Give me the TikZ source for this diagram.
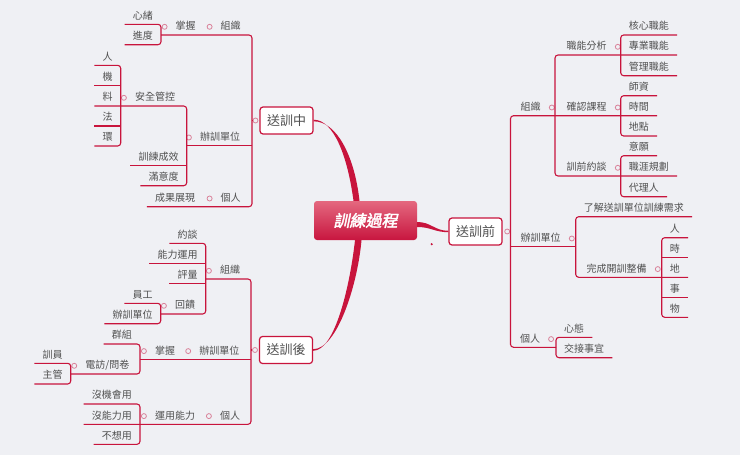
\documentclass[tikz,border=0pt]{standalone}
\usepackage{fontspec}
\setmainfont{Noto Sans CJK TC}
\newfontfamily\hubfont[FakeSlant=0.2,FakeBold=2.5]{Noto Sans CJK TC}

\definecolor{bg}{HTML}{EFF0F4}
\definecolor{linec}{HTML}{C8143C}
\definecolor{knobc}{HTML}{D9829A}
\definecolor{txt}{HTML}{505050}
\definecolor{hubtop}{HTML}{E4687F}
\definecolor{hubbot}{HTML}{C8163F}

\tikzset{
  link/.style={draw=linec, line width=1.1pt, rounded corners=3pt},
  branch/.style={fill=linec},
  leaf/.style={font=\fontsize{10}{12}\selectfont, text=txt, inner xsep=8pt,
    inner ysep=3pt, text height=8pt, text depth=2pt},
  knob/.style={circle, draw=knobc, fill=bg, line width=0.8pt, minimum size=5pt,
    inner sep=0pt, text height=0pt, text depth=0pt},
  topicL/.style={leaf, inner xsep=0pt, anchor=south,
    label={[knob, label distance=8pt]left:{}}},
  topicR/.style={leaf, inner xsep=0pt, anchor=south,
    label={[knob, label distance=8pt]right:{}}},
  mainbox/.style={draw=linec, fill=white, line width=1.2pt, rounded corners=3pt,
    minimum width=53pt, minimum height=27pt, inner sep=0pt,
    font=\fontsize{13}{15}\selectfont, text=txt},
  hub/.style={rounded corners=3pt, top color=hubtop, bottom color=hubbot,
    minimum width=103pt, minimum height=39pt, inner sep=0pt, text=white,
    font=\hubfont\fontsize{16}{18}\selectfont},
}

\begin{document}
\begin{tikzpicture}[x=1pt, y=-1pt]
\fill[bg] (0,0) rectangle (740,455);
\useasboundingbox (0,0) rectangle (740,455);

\node[hub] (guocheng) at (365.5,220.5) {訓練過程};

% 送訓中
\node[mainbox, label={[knob, name=zhong-knob, label distance=1pt]left:{}}] (zhong) at (286.5,120.5) {送訓中};
\node[leaf, anchor=south east] (xinxu) at (161,24.3) {心緒};
\node[leaf, anchor=south east] (jindu) at (161,44.7) {進度};
\node[topicL] (zhangwo) at (185.7,35) {掌握};
\node[topicL] (zuzhi) at (230.7,35) {組織};
\node[leaf, anchor=south east] (ren) at (120.7,65.3) {人};
\node[leaf, anchor=south east] (ji) at (120.7,85.7) {機};
\node[leaf, anchor=south east] (liao) at (120.7,106) {料};
\node[leaf, anchor=south east] (fa) at (120.7,126) {法};
\node[leaf, anchor=south east] (huan) at (120.7,146) {環};
\node[topicL] (anquan) at (155,106) {安全管控};
\node[leaf, anchor=south east] (chengxiao) at (186.7,165.7) {訓練成效};
\node[leaf, anchor=south east] (manyi) at (186.7,185.7) {滿意度};
\node[topicL] (banxun) at (220,145.7) {辦訓單位};
\node[leaf, anchor=south] (chengguo) at (175,206.7) {成果展現};
\node[topicL] (geren) at (230.7,206.7) {個人};
\coordinate (zhong-top) at (252,35);
\coordinate (zhong-bot) at (252,206.7);

\draw[link] (xinxu.south west) -- (xinxu.south east) -- (jindu.south east) -- (jindu.south west);
\draw[link] (jindu.south east |- zhangwo.south) -- (zhong-top) -- (zhong-bot) -- (chengguo.south west);
\draw[link] (zhong-top |- zhong.west) -- (zhong-knob.west);
\draw[link] (ren.south west) -- (ren.south east) -- (huan.south east) -- (huan.south west);
\draw[link] (ji.south west) -- (ji.south east);
\draw[link] (fa.south west) -- (fa.south east);
\draw[link] (liao.south west) -- (liao.south -| manyi.south east) -- (manyi.south east) -- (manyi.south west);
\draw[link] (chengxiao.south west) -- (chengxiao.south east);
\draw[link] (chengxiao.south east |- banxun.south) -- (zhong-top |- banxun.south);

% 送訓後
\node[mainbox, label={[knob, name=hou-knob, label distance=1pt]left:{}}] (hou) at (286,350) {送訓後};
\node[leaf, anchor=south east] (yuetan) at (205.7,243.3) {約談};
\node[leaf, anchor=south east] (nengli) at (205.7,263.3) {能力運用};
\node[leaf, anchor=south east] (pingliang) at (205.7,283.3) {評量};
\node[topicL] (huikui) at (185,314) {回饋};
\node[leaf, anchor=south east] (yuangong) at (160.7,303.3) {員工};
\node[leaf, anchor=south east] (banxunb) at (160.7,323.7) {辦訓單位};
\node[topicL] (zuzhib) at (230,279) {組織};
\node[leaf, anchor=south east] (qunzu) at (140,344) {群組};
\node[topicL] (dianfang) at (107.3,374) {電訪/問卷};
\node[leaf, anchor=south east] (xunyuan) at (70.7,363.3) {訓員};
\node[leaf, anchor=south east] (zhuguan) at (70.7,384) {主管};
\node[topicL] (zhangwob) at (165,359.3) {掌握};
\node[topicL] (banxunc) at (219.3,359.3) {辦訓單位};
\node[leaf, anchor=south east] (meijihui) at (140,404) {沒機會用};
\node[leaf, anchor=south east] (meinengli) at (140,424.3) {沒能力用};
\node[leaf, anchor=south east] (buxiang) at (140,444.3) {不想用};
\node[topicL] (yunyong) at (175,424.3) {運用能力};
\node[topicL] (gerenb) at (230,424.3) {個人};
\coordinate (hou-top) at (251,279);
\coordinate (hou-bot) at (251,424.3);

\draw[link] (yuetan.south west) -- (yuetan.south east) -- (yuetan.south east |- huikui.south) -- (yuangong.south east |- huikui.south);
\draw[link] (nengli.south west) -- (nengli.south east);
\draw[link] (pingliang.south west) -- (pingliang.south east);
\draw[link] (yuangong.south west) -- (yuangong.south east) -- (banxunb.south east) -- (banxunb.south west);
\draw[link] (yuetan.south east |- zuzhib.south) -- (hou-top) -- (hou-bot) -- (meinengli.south west);
\draw[link] (hou-top |- hou.west) -- (hou-knob.west);
\draw[link] (qunzu.south west) -- (qunzu.south east) -- (qunzu.south east |- dianfang.south) -- (xunyuan.south east |- dianfang.south);
\draw[link] (qunzu.south east |- zhangwob.south) -- (hou-top |- zhangwob.south);
\draw[link] (xunyuan.south west) -- (xunyuan.south east) -- (zhuguan.south east) -- (zhuguan.south west);
\draw[link] (meijihui.south west) -- (meijihui.south east) -- (buxiang.south east) -- (buxiang.south west);

% 送訓前
\node[mainbox, label={[knob, name=qian-knob, label distance=1.7pt]right:{}}] (qian) at (475.5,231.5) {送訓前};
\node[leaf, anchor=south west] (hexin) at (620.7,35) {核心職能};
\node[leaf, anchor=south west] (zhuanye) at (620.7,55) {專業職能};
\node[leaf, anchor=south west] (guanli) at (620.7,75.7) {管理職能};
\node[topicR] (nengfen) at (586.7,55) {職能分析};
\node[leaf, anchor=south west] (shizi) at (620.7,95.7) {師資};
\node[leaf, anchor=south west] (shijian) at (620.7,115.7) {時間};
\node[leaf, anchor=south west] (didian) at (620.7,136) {地點};
\node[topicR] (kecheng) at (586.7,115.7) {確認課程};
\node[leaf, anchor=south west] (yiyuan) at (620.7,155.7) {意願};
\node[leaf, anchor=south west] (zhiya) at (620.7,176) {職涯規劃};
\node[leaf, anchor=south west] (dailiren) at (620.7,196.7) {代理人};
\node[topicR] (xunqian) at (586.7,176) {訓前約談};
\node[topicR] (zuzhic) at (530.7,115.7) {組織};
\node[leaf, anchor=south west] (liaojie) at (575.7,216.7) {了解送訓單位訓練需求};
\node[topicR] (zhengbei) at (616.7,277.3) {完成開訓整備};
\node[leaf, anchor=south west] (renb) at (661.7,237.7) {人};
\node[leaf, anchor=south west] (shi) at (661.7,257.3) {時};
\node[leaf, anchor=south west] (di) at (661.7,277.3) {地};
\node[leaf, anchor=south west] (shic) at (661.7,297.3) {事};
\node[leaf, anchor=south west] (wu) at (661.7,317.3) {物};
\node[topicR] (banxund) at (540.7,246.7) {辦訓單位};
\node[leaf, anchor=south west] (xintai) at (556,337.3) {心態};
\node[leaf, anchor=south west] (jiaojie) at (556,357.7) {交接事宜};
\node[topicR] (gerenc) at (530,347.3) {個人};
\coordinate (qian-top) at (510.5,115.7);
\coordinate (qian-bot) at (510.5,347.3);
\coordinate (zuzhi-top) at (555,55);
\coordinate (zuzhi-bot) at (555,176);

\draw[link] (hexin.south east) -- (hexin.south west) -- (guanli.south west) -- (guanli.south east);
\draw[link] (zhuanye.south east) -- (zuzhi-top) -- (zuzhi-bot) -- (zhiya.south east);
\draw[link] (shizi.south east) -- (shizi.south west) -- (didian.south west) -- (didian.south east);
\draw[link] (yiyuan.south east) -- (yiyuan.south west) -- (dailiren.south west) -- (dailiren.south east);
\draw[link] (shijian.south east) -- (qian-top) -- (qian-bot) -- (xintai.south west |- gerenc.south);
\draw[link] (qian-knob.east) -- (qian-top |- qian.east);
\draw[link] (qian-top |- banxund.south) -- (liaojie.south west |- banxund.south);
\draw[link] (liaojie.south east) -- (liaojie.south west) -- (liaojie.south west |- zhengbei.south) -- (di.south east);
\draw[link] (renb.south east) -- (renb.south west) -- (wu.south west) -- (wu.south east);
\draw[link] (shi.south west) -- (shi.south east);
\draw[link] (shic.south west) -- (shic.south east);
\draw[link] (xintai.south east) -- (xintai.south west) -- (jiaojie.south west) -- (jiaojie.south east);

% main branches
\fill[branch] ([xshift=-12pt]guocheng.north) .. controls +(-6,-45) and +(20,0) .. ([yshift=0.8pt]zhong.east)
  -- ([yshift=-0.8pt]zhong.east) .. controls +(23,0) and +(-5,-45) .. ([xshift=-6pt]guocheng.north) -- cycle;
\fill[branch] ([xshift=-10.5pt]guocheng.south) .. controls +(-5,45) and +(22,0) .. ([yshift=-0.8pt]hou.east)
  -- ([yshift=0.8pt]hou.east) .. controls +(24,0) and +(-4,45) .. ([xshift=-4pt]guocheng.south) -- cycle;
\fill[branch] ([yshift=-1.5pt]guocheng.east) .. controls +(14,0) and +(-14,0) .. ([yshift=0.7pt]qian.west)
  -- ([yshift=-0.7pt]qian.west) .. controls +(-14,0) and +(14,0) .. ([yshift=-6.5pt]guocheng.east) -- cycle;
\fill[branch] ([xshift=14.5pt, yshift=-4pt]guocheng.south east) circle (1.2pt);
\end{tikzpicture}
\end{document}
